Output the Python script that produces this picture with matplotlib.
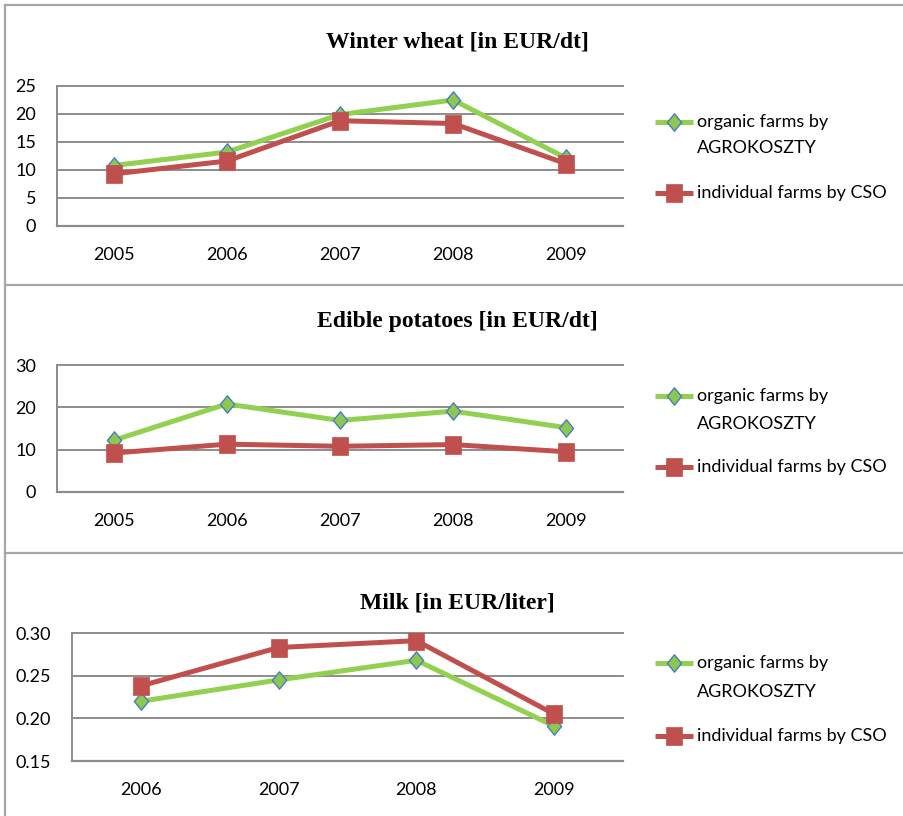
import matplotlib
matplotlib.use("Agg")
import matplotlib.pyplot as plt
from matplotlib.lines import Line2D
from matplotlib.path import Path

# ---- data -------------------------------------------------------------
wheat_years = ["2005", "2006", "2007", "2008", "2009"]
wheat_organic = [10.8, 13.2, 19.9, 22.5, 12.1]
wheat_individual = [9.3, 11.6, 18.8, 18.3, 11.1]

potato_years = ["2005", "2006", "2007", "2008", "2009"]
potato_organic = [12.2, 20.8, 16.9, 19.1, 15.2]
potato_individual = [9.2, 11.3, 10.8, 11.2, 9.5]

milk_years = ["2006", "2007", "2008", "2009"]
milk_organic = [0.220, 0.245, 0.268, 0.191]
milk_individual = [0.238, 0.283, 0.291, 0.205]

series_labels = ["organic farms by\nAGROKOSZTY", "individual farms by CSO"]
titles = ["Winter wheat [in EUR/dt]", "Edible potatoes [in EUR/dt]", "Milk [in EUR/liter]"]

# ---- style ------------------------------------------------------------
W, H = 904, 816
GREEN = "#92D050"
GREEN_FACE = "#8CC751"
BLUE_EDGE = "#4A7EBB"
RED = "#C0504D"
GRID = "#8C8C8C"
BORDER = "#A6A6A6"
TICK_FONT = "Lato"
TICK_SIZE = 13
TITLE_FONT = "Liberation Serif"

diamond = Path([(0, 1), (0.82, 0), (0, -1), (-0.82, 0), (0, 1)],
               [Path.MOVETO, Path.LINETO, Path.LINETO, Path.LINETO, Path.CLOSEPOLY])
square = Path([(-0.88, -1), (0.88, -1), (0.88, 1), (-0.88, 1), (-0.88, -1)],
              [Path.MOVETO, Path.LINETO, Path.LINETO, Path.LINETO, Path.CLOSEPOLY])

organic_style = dict(color=GREEN, lw=3.6, marker=diamond, ms=12.5,
                     markerfacecolor=GREEN_FACE, markeredgecolor=BLUE_EDGE, markeredgewidth=1.0,
                     solid_capstyle="butt")
individual_style = dict(color=RED, lw=3.6, marker=square, ms=12.5,
                        markerfacecolor=RED, markeredgecolor=RED, markeredgewidth=0.5,
                        solid_capstyle="butt")

fig = plt.figure(figsize=(W / 100, H / 100), dpi=100)
fig.patch.set_facecolor("white")


def px_rect(x0, x1, ytop, ybot):
    return [x0 / W, 1 - ybot / H, (x1 - x0) / W, (ybot - ytop) / H]


def fx(x):
    return x / W


def fy(y):
    return 1 - y / H


# panel frames
for y in (5, 285, 553):
    fig.add_artist(Line2D([fx(5), 1], [fy(y), fy(y)], color=BORDER, lw=1.6))
fig.add_artist(Line2D([fx(5), fx(5)], [fy(5), 0], color=BORDER, lw=1.6))

panels = [
    dict(rect=(57, 623, 86, 226), years=wheat_years, org=wheat_organic, ind=wheat_individual,
         ylim=(0, 25), ticks=[0, 5, 10, 15, 20, 25], fmt="{:.0f}", title_y=42,
         legend_y=(122, 148, 193)),
    dict(rect=(57, 623, 365, 492), years=potato_years, org=potato_organic, ind=potato_individual,
         ylim=(0, 30), ticks=[0, 10, 20, 30], fmt="{:.0f}", title_y=322,
         legend_y=(396, 424, 467)),
    dict(rect=(72, 623, 633, 761), years=milk_years, org=milk_organic, ind=milk_individual,
         ylim=(0.15, 0.30), ticks=[0.15, 0.20, 0.25, 0.30], fmt="{:.2f}", title_y=603,
         legend_y=(663, 692, 736)),
]

for p, title in zip(panels, titles):
    ax = fig.add_axes(px_rect(*p["rect"]))
    xs = list(range(len(p["years"])))
    ax.plot(xs, p["org"], zorder=3, **organic_style)
    ax.plot(xs, p["ind"], zorder=4, **individual_style)
    ax.set_xlim(-0.5, len(xs) - 0.5)
    ax.set_ylim(*p["ylim"])
    ax.set_yticks(p["ticks"])
    ax.set_yticklabels([p["fmt"].format(t) for t in p["ticks"]], fontfamily=TICK_FONT, fontsize=TICK_SIZE)
    ax.set_xticks(xs)
    ax.set_xticklabels(p["years"], fontfamily=TICK_FONT, fontsize=TICK_SIZE)
    ax.tick_params(axis="both", length=0)
    ax.tick_params(axis="y", pad=15)
    ax.tick_params(axis="x", pad=15)
    for t in p["ticks"]:
        ax.axhline(t, color=GRID, lw=1.4, zorder=1, clip_on=False)
    for s in ("top", "right"):
        ax.spines[s].set_visible(False)
    ax.spines["left"].set_color(GRID)
    ax.spines["left"].set_linewidth(1.4)
    ax.spines["bottom"].set_color(GRID)
    ax.spines["bottom"].set_linewidth(1.6)
    ax.set_facecolor("none")

    fig.text(fx(457), fy(p["title_y"]), title, ha="center", va="center",
             fontfamily=TITLE_FONT, fontweight="bold", fontsize=17)

    # key on the right
    y1, y2, y3 = p["legend_y"]
    org_lines = series_labels[0].split("\n")
    for (yy, style) in ((y1, organic_style), (y3, individual_style)):
        fig.add_artist(Line2D([fx(655), fx(693)], [fy(yy), fy(yy)], **style, markevery=[]))
        fig.add_artist(Line2D([fx(674)], [fy(yy)], **{k: v for k, v in style.items() if k not in ("lw",)},
                              lw=0))
    fig.text(fx(697), fy(y1), org_lines[0], ha="left", va="center", fontfamily=TICK_FONT, fontsize=TICK_SIZE)
    fig.text(fx(697), fy(y2), org_lines[1], ha="left", va="center", fontfamily=TICK_FONT, fontsize=TICK_SIZE)
    fig.text(fx(697), fy(y3), series_labels[1], ha="left", va="center", fontfamily=TICK_FONT, fontsize=TICK_SIZE)

fig.savefig("out.png", dpi=100, facecolor="white")
